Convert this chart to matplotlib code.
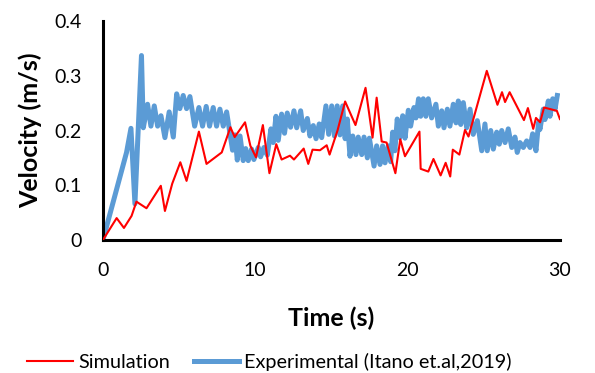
import matplotlib
matplotlib.use("Agg")
import matplotlib.pyplot as plt

# simulation (red)
sim_t = [0, 0.9, 1.38, 1.88, 2.2, 2.86, 3.8, 4.07, 4.55, 5.08, 5.49, 6.3, 6.8, 7.8,
         8.37, 8.65, 9.33, 9.68, 10.05, 10.5, 10.93, 11.38, 11.73, 12.28, 12.54,
         13.18, 13.48, 13.76, 14.25, 14.69, 14.88, 15.4, 15.9, 16.58, 17.24, 17.7,
         17.97, 18.3, 18.62, 19.2, 19.52, 19.83, 20.78, 20.86, 21.36, 21.7, 22.17,
         22.5, 22.8, 22.97, 23.4, 23.77, 24.0, 25.2, 25.9, 26.2, 26.4, 26.7, 27.64,
         27.9, 28.25, 28.43, 28.7, 28.96, 29.8, 30.0]
sim_v = [0, 0.04, 0.022, 0.044, 0.07, 0.058, 0.099, 0.053, 0.103, 0.142, 0.108, 0.198,
         0.139, 0.16, 0.206, 0.188, 0.215, 0.172, 0.151, 0.21, 0.122, 0.175, 0.147,
         0.154, 0.147, 0.167, 0.139, 0.165, 0.164, 0.173, 0.156, 0.2, 0.253, 0.21,
         0.278, 0.187, 0.26, 0.18, 0.178, 0.122, 0.184, 0.153, 0.198, 0.13, 0.125,
         0.148, 0.118, 0.141, 0.116, 0.165, 0.156, 0.201, 0.189, 0.309, 0.247, 0.27,
         0.252, 0.27, 0.219, 0.241, 0.203, 0.223, 0.215, 0.242, 0.236, 0.221]

# experimental (blue)
exp_t = [0, 1.55, 1.84, 2.1, 2.53, 2.65, 2.93, 3.15, 3.37, 3.59, 3.81, 4.07, 4.35,
         4.62, 4.84, 5.05, 5.27, 5.49, 5.71, 6.02, 6.3, 6.54, 6.78, 7.0, 7.24, 7.46,
         7.68, 7.9, 8.12, 8.51, 8.67, 8.82, 9.0, 9.21, 9.37, 9.54, 9.76, 9.91, 10.2,
         10.35, 10.57, 10.79, 11.03, 11.18, 11.36, 11.51, 11.73, 11.92, 12.1, 12.32,
         12.54, 12.72, 12.98, 13.15, 13.42, 13.59, 13.81, 13.99, 14.2, 14.36, 14.64,
         14.82, 15.02, 15.2, 15.38, 15.56, 15.74, 15.9, 16.04, 16.22, 16.4, 16.61,
         16.76, 16.99, 17.14, 17.36, 17.49, 17.8, 17.97, 18.19, 18.36, 18.52, 18.73,
         18.89, 19.02, 19.17, 19.32, 19.5, 19.68, 19.83, 20.05, 20.2, 20.42, 20.55,
         20.72, 20.86, 21.03, 21.2, 21.36, 21.58, 21.86, 22.02, 22.24, 22.39, 22.61,
         22.78, 23.0, 23.18, 23.33, 23.49, 23.66, 23.88, 24.1, 24.31, 24.58, 24.87,
         25.08, 25.23, 25.46, 25.63, 25.85, 26.02, 26.18, 26.4, 26.61, 26.84, 27.05,
         27.2, 27.38, 27.6, 27.82, 28.04, 28.21, 28.43, 28.6, 28.69, 28.91, 29.02,
         29.24, 29.35, 29.53, 29.68, 29.83]
exp_v = [0, 0.16, 0.204, 0.066, 0.337, 0.205, 0.248, 0.208, 0.245, 0.208, 0.227,
         0.187, 0.234, 0.188, 0.267, 0.24, 0.264, 0.24, 0.262, 0.208, 0.242, 0.208,
         0.244, 0.208, 0.242, 0.208, 0.239, 0.208, 0.234, 0.164, 0.192, 0.146, 0.19,
         0.145, 0.167, 0.145, 0.166, 0.147, 0.169, 0.152, 0.169, 0.155, 0.203, 0.178,
         0.226, 0.182, 0.23, 0.195, 0.232, 0.206, 0.236, 0.205, 0.236, 0.2, 0.222,
         0.19, 0.209, 0.185, 0.212, 0.187, 0.245, 0.193, 0.245, 0.19, 0.245, 0.192,
         0.245, 0.185, 0.221, 0.153, 0.19, 0.156, 0.188, 0.156, 0.188, 0.15, 0.186,
         0.135, 0.172, 0.138, 0.172, 0.141, 0.172, 0.143, 0.197, 0.163, 0.221, 0.187,
         0.227, 0.186, 0.237, 0.208, 0.242, 0.223, 0.258, 0.226, 0.258, 0.226, 0.258,
         0.223, 0.248, 0.208, 0.236, 0.205, 0.239, 0.208, 0.248, 0.214, 0.254, 0.211,
         0.251, 0.205, 0.239, 0.193, 0.218, 0.163, 0.212, 0.163, 0.2, 0.166, 0.197,
         0.175, 0.2, 0.178, 0.203, 0.169, 0.188, 0.16, 0.178, 0.169, 0.181, 0.169,
         0.194, 0.163, 0.215, 0.202, 0.239, 0.22, 0.254, 0.226, 0.258, 0.239, 0.264]

x_ticks = [0, 10, 20, 30]
y_ticks = [0, 0.1, 0.2, 0.3, 0.4]
y_tick_labels = ["0", "0.1", "0.2", "0.3", "0.4"]

plt.rcParams['font.family'] = ['Lato', 'DejaVu Sans']

fig = plt.figure(figsize=(5.95, 3.73), dpi=100)
ax = fig.add_axes([0.173, 0.3566, 0.768, 0.587])

ax.plot(exp_t, exp_v, color='#5B9BD5', linewidth=3.6, solid_joinstyle='round',
        label='Experimental (Itano et.al,2019)', zorder=2)
ax.plot(sim_t, sim_v, color='#FF0000', linewidth=1.5,
        label='Simulation', zorder=3)

ax.set_xlim(0, 30)
ax.set_ylim(0, 0.4)
ax.set_xticks(x_ticks)
ax.set_yticks(y_ticks)
ax.set_yticklabels(y_tick_labels)
ax.tick_params(length=0, labelsize=14, colors='#000000')
ax.tick_params(axis='y', pad=15)
ax.tick_params(axis='x', pad=16)

for side in ['top', 'right']:
    ax.spines[side].set_visible(False)
for side in ['left', 'bottom']:
    ax.spines[side].set_linewidth(2.2)
    ax.spines[side].set_color('black')

ax.set_xlabel('Time (s)', fontsize=18, fontweight='bold', labelpad=20)
ax.set_ylabel('Velocity (m/s)', fontsize=18, fontweight='bold', labelpad=9)

handles, labels = ax.get_legend_handles_labels()
fig.legend(handles[::-1], labels[::-1], loc='center', ncol=2, frameon=False,
           fontsize=14.3, handlelength=2.3, handletextpad=0.25, columnspacing=1.2,
           bbox_to_anchor=(0.453, 0.03))

fig.savefig('out.png', dpi=100)
